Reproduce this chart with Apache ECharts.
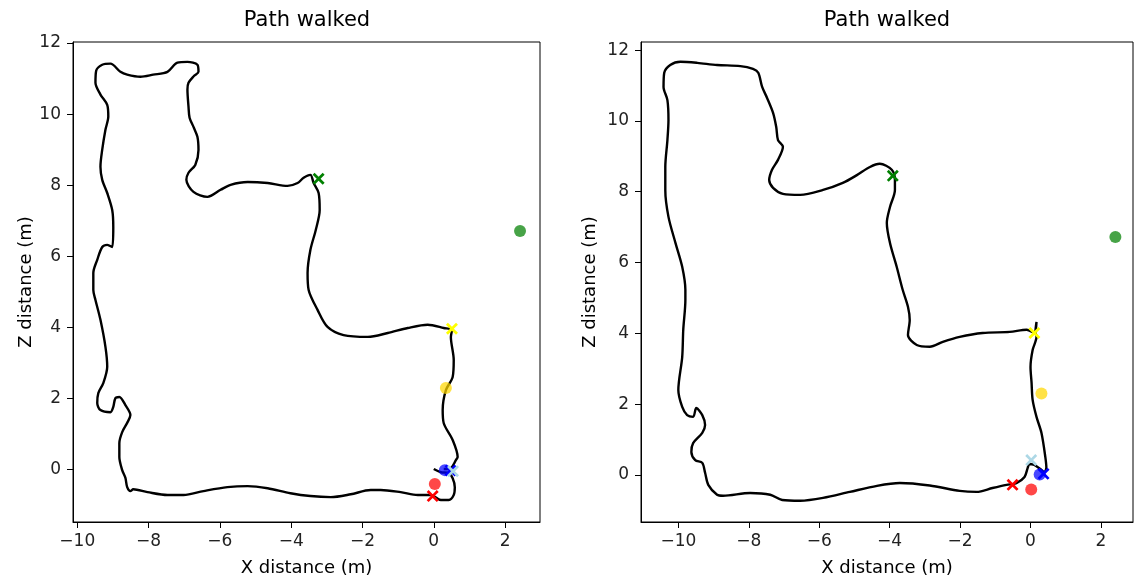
<!DOCTYPE html>
<html>
<head>
<meta charset="utf-8">
<script src="https://cdn.jsdelivr.net/npm/echarts@6/dist/echarts.min.js"></script>
<style>
html,body{margin:0;padding:0;background:#fff;}
#chart{width:1134px;height:582px;}
</style>
</head>
<body>
<div id="chart"></div>
<script>
// ---- Data (metres) ----
const titleText = "Path walked";
const xAxisLabel = "X distance (m)";
const zAxisLabel = "Z distance (m)";
const xTicks = [-10, -8, -6, -4, -2, 0, 2];
const zTicks = [0, 2, 4, 6, 8, 10, 12];

// Left panel path
const leftPathX = [0.28,0.48,0.62,0.67,0.53,0.28,0.25,0.34,0.53,0.56,0.48,0.51,0.28,-0.17,-0.73,-1.29,-1.85,-2.53,-2.98,-3.26,-3.51,-3.54,-3.46,-3.31,-3.20,-3.23,-3.37,-3.46,-3.65,-3.82,-4.10,-4.66,-5.22,-5.70,-5.98,-6.35,-6.74,-6.94,-6.88,-6.69,-6.60,-6.63,-6.74,-6.85,-6.88,-6.91,-6.88,-6.74,-6.60,-6.63,-6.91,-7.19,-7.47,-7.87,-8.23,-8.60,-8.79,-9.07,-9.30,-9.47,-9.49,-9.35,-9.16,-9.13,-9.21,-9.30,-9.35,-9.30,-9.16,-9.02,-8.99,-9.02,-9.16,-9.30,-9.44,-9.55,-9.55,-9.49,-9.35,-9.21,-9.16,-9.27,-9.41,-9.44,-9.35,-9.07,-8.99,-8.93,-8.82,-8.65,-8.51,-8.60,-8.74,-8.82,-8.82,-8.74,-8.65,-8.60,-8.51,-8.43,-8.03,-7.47,-7.02,-6.46,-5.79,-5.22,-4.66,-4.02,-3.46,-2.89,-2.33,-1.77,-1.49,-0.93,-0.45,-0.08,0.20,0.42,0.56,0.59,0.53,0.42,0.20,0.00];
const leftPathZ = [0.01,0.04,0.26,0.35,0.83,1.30,1.67,2.23,2.60,3.08,3.73,3.92,3.98,4.07,3.98,3.84,3.73,3.78,4.01,4.49,5.05,5.53,6.18,6.74,7.30,7.78,8.06,8.29,8.21,8.06,7.98,8.06,8.09,8.01,7.87,7.67,7.81,8.15,8.35,8.57,8.99,9.36,9.64,9.90,10.21,10.69,10.88,11.06,11.19,11.39,11.47,11.45,11.19,11.11,11.05,11.11,11.19,11.42,11.39,11.22,10.88,10.55,10.26,9.93,9.56,9.00,8.52,8.15,7.78,7.30,6.82,6.26,6.32,6.26,5.90,5.53,5.05,4.77,4.21,3.45,2.89,2.43,2.15,1.87,1.67,1.61,1.76,2.01,2.04,1.81,1.53,1.31,1.05,0.74,0.35,-0.02,-0.24,-0.50,-0.61,-0.56,-0.64,-0.72,-0.72,-0.61,-0.50,-0.47,-0.53,-0.67,-0.75,-0.78,-0.70,-0.58,-0.58,-0.64,-0.72,-0.72,-0.86,-0.86,-0.72,-0.50,-0.25,-0.10,-0.08,0.01];

// Right panel path
const rightPathX = [0.40,0.45,0.42,0.31,0.17,0.06,0.03,0.00,0.06,0.17,0.14,0.17,0.11,-0.11,-0.59,-1.36,-2.01,-2.49,-2.86,-3.23,-3.48,-3.43,-3.48,-3.63,-3.80,-3.99,-4.08,-3.99,-3.85,-3.85,-3.94,-4.28,-4.56,-4.93,-5.33,-5.89,-6.54,-7.03,-7.31,-7.42,-7.34,-7.17,-7.03,-7.17,-7.22,-7.31,-7.48,-7.62,-7.73,-7.88,-8.24,-8.90,-9.46,-9.94,-10.23,-10.40,-10.42,-10.31,-10.28,-10.31,-10.37,-10.37,-10.28,-10.08,-9.89,-9.80,-9.80,-9.86,-9.89,-10.00,-9.89,-9.75,-9.58,-9.49,-9.32,-9.24,-9.32,-9.58,-9.63,-9.52,-9.32,-9.24,-9.15,-8.90,-8.73,-7.96,-7.39,-7.05,-6.54,-5.89,-5.13,-4.36,-3.71,-2.86,-2.01,-1.53,-1.08,-0.68,-0.40,-0.17,-0.08,-0.03,0.11,0.31,0.40];
const rightPathZ = [0.06,0.20,0.51,1.19,1.64,2.12,2.60,3.05,3.53,3.90,4.04,4.32,4.01,4.10,4.04,4.01,3.90,3.76,3.62,3.67,3.95,4.38,4.75,5.23,5.88,6.55,7.12,7.57,8.05,8.33,8.62,8.79,8.70,8.47,8.25,8.05,7.91,7.94,8.11,8.33,8.62,8.90,9.27,9.46,9.83,10.23,10.65,10.96,11.36,11.47,11.55,11.58,11.64,11.67,11.58,11.36,10.96,10.59,10.03,9.46,8.70,8.05,7.29,6.55,5.88,5.23,4.94,4.10,3.33,2.40,1.92,1.69,1.64,1.89,1.69,1.41,1.19,0.90,0.65,0.42,0.34,0.06,-0.28,-0.56,-0.59,-0.51,-0.56,-0.71,-0.73,-0.65,-0.48,-0.31,-0.23,-0.30,-0.45,-0.48,-0.37,-0.28,-0.23,-0.06,0.20,0.31,0.28,0.14,0.06];

// Markers: [x, z] per panel
const leftRedCross = [-0.03, -0.75];
const leftRedDot = [0.03, -0.41];
const leftBlueDot = [0.31, -0.02];
const leftBlueCross = [0.47, -0.03];
const leftLightBlueCross = [0.54, -0.05];
const leftYellowCross = [0.51, 3.96];
const leftGoldDot = [0.34, 2.29];
const leftGreenCross = [-3.23, 8.18];
const leftGreenDot = [2.42, 6.71];

const rightRedCross = [-0.51, -0.28];
const rightRedDot = [0.02, -0.41];
const rightBlueDot = [0.26, 0.01];
const rightBlueCross = [0.37, 0.03];
const rightLightBlueCross = [0.02, 0.42];
const rightYellowCross = [0.11, 4.01];
const rightGoldDot = [0.31, 2.30];
const rightGreenCross = [-3.91, 8.45];
const rightGreenDot = [2.41, 6.72];

// ---- Chart ----
const FONT = "DejaVu Sans";
const CROSS = 'path://M0,1.6L1.6,0L5,3.4L8.4,0L10,1.6L6.6,5L10,8.4L8.4,10L5,6.6L1.6,10L0,8.4L3.4,5Z';
const minus = v => String(v).replace('-', '\u2212');

function zip(xs, zs) { return xs.map((x, i) => [x, zs[i]]); }

function xAxisDef(gi, min, max) {
  return {
    type: 'value', gridIndex: gi, min: min, max: max,
    name: xAxisLabel, nameLocation: 'middle', nameGap: 37,
    nameTextStyle: { fontFamily: FONT, fontSize: 18, color: '#000' },
    axisLine: { show: true, onZero: false, lineStyle: { color: '#000', width: 1 } },
    axisTick: { show: true, inside: false, length: 6, lineStyle: { color: '#000' }, customValues: xTicks },
    axisLabel: { fontFamily: FONT, fontSize: 17, color: '#222', margin: 11, customValues: xTicks, formatter: minus },
    splitLine: { show: false }
  };
}
function yAxisDef(gi, min, max, gap) {
  return {
    type: 'value', gridIndex: gi, min: min, max: max,
    name: zAxisLabel, nameLocation: 'middle', nameGap: gap, nameRotate: 90,
    nameTextStyle: { fontFamily: FONT, fontSize: 18, color: '#000' },
    axisLine: { show: true, onZero: false, lineStyle: { color: '#000', width: 1 } },
    axisTick: { show: true, inside: false, length: 6, lineStyle: { color: '#000' }, customValues: zTicks },
    axisLabel: { fontFamily: FONT, fontSize: 17, color: '#222', margin: 12, customValues: zTicks, formatter: minus },
    splitLine: { show: false }
  };
}
function cross(gi, pt, color) {
  return { type: 'scatter', xAxisIndex: gi, yAxisIndex: gi, data: [pt], symbol: CROSS, symbolSize: 12,
    itemStyle: { color: color, opacity: 1 }, z: 5 };
}
function dot(gi, pt, color) {
  return { type: 'scatter', xAxisIndex: gi, yAxisIndex: gi, data: [pt], symbol: 'circle', symbolSize: 12,
    itemStyle: { color: color, opacity: 0.72 }, z: 4 };
}
function path(gi, xs, zs) {
  return { type: 'line', xAxisIndex: gi, yAxisIndex: gi, data: zip(xs, zs), showSymbol: false, symbol: 'none',
    smooth: 0.3, lineStyle: { color: '#000', width: 2.4 }, z: 3, silent: true };
}

const chart = echarts.init(document.getElementById('chart'), null, { renderer: 'canvas' });
chart.setOption({
  animation: false,
  backgroundColor: '#fff',
  title: [
    { text: titleText, left: 307, top: 10, padding: 0, textAlign: 'center', textStyle: { fontFamily: FONT, fontSize: 21, fontWeight: 'normal', color: '#000' } },
    { text: titleText, left: 887, top: 10, padding: 0, textAlign: 'center', textStyle: { fontFamily: FONT, fontSize: 21, fontWeight: 'normal', color: '#000' } }
  ],
  grid: [
    { left: 73, top: 42, width: 467, height: 480, show: true, borderColor: '#000', borderWidth: 1, backgroundColor: 'transparent' },
    { left: 641, top: 42, width: 492, height: 480, show: true, borderColor: '#000', borderWidth: 1, backgroundColor: 'transparent' }
  ],
  xAxis: [ xAxisDef(0, -10.12, 2.98), xAxisDef(1, -11.06, 2.91) ],
  yAxis: [ yAxisDef(0, -1.48, 12.03, 33), yAxisDef(1, -1.33, 12.23, 42) ],
  series: [
    path(0, leftPathX, leftPathZ),
    dot(0, leftRedDot, '#ff0000'),
    dot(0, leftBlueDot, '#0000ff'),
    dot(0, leftGoldDot, '#ffd700'),
    dot(0, leftGreenDot, '#008000'),
    cross(0, leftRedCross, '#ff0000'),
    cross(0, leftBlueCross, '#0000ff'),
    cross(0, leftLightBlueCross, '#add8e6'),
    cross(0, leftYellowCross, '#ffff00'),
    cross(0, leftGreenCross, '#008000'),

    path(1, rightPathX, rightPathZ),
    dot(1, rightRedDot, '#ff0000'),
    dot(1, rightBlueDot, '#0000ff'),
    dot(1, rightGoldDot, '#ffd700'),
    dot(1, rightGreenDot, '#008000'),
    cross(1, rightRedCross, '#ff0000'),
    cross(1, rightBlueCross, '#0000ff'),
    cross(1, rightLightBlueCross, '#add8e6'),
    cross(1, rightYellowCross, '#ffff00'),
    cross(1, rightGreenCross, '#008000')
  ]
});
</script>
</body>
</html>
